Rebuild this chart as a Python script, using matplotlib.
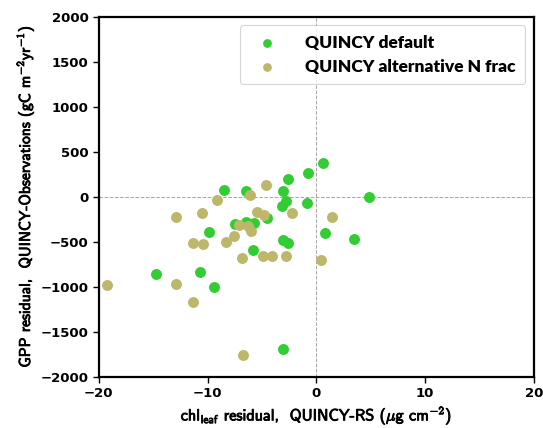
import matplotlib
matplotlib.use("Agg")
import matplotlib.pyplot as plt
import matplotlib.patheffects as pe
import numpy as np

# chl_leaf residual (x) vs GPP residual (y)
default_x = [0.61, -0.75, -2.64, -8.5, -6.46, -3.02, 4.88, -2.82, -0.87, -3.18,
             -4.53, -7.51, -6.44, -5.77, -9.88, 0.82, 3.43, -3.1, -2.64, -5.8,
             -14.7, -10.65, -9.42, -3.03]
default_y = [378, 263, 193, 69, 67, 67, -7, -51, -70, -109,
             -242, -306, -277, -289, -396, -400, -473, -481, -514, -590,
             -859, -833, -1000, -1692]

altn_x = [-4.66, -6.1, -9.12, -12.9, -10.55, -5.45, -4.79, -2.2, 1.47, -7.15,
          -6.28, -6.0, -7.57, -11.33, -10.41, -8.31, -6.8, -4.93, -4.04, -2.78,
          0.39, -19.26, -12.9, -11.3, -6.73]
altn_y = [128, 19, -37, -222, -184, -166, -203, -187, -222, -318,
          -328, -381, -437, -517, -522, -503, -684, -659, -659, -659,
          -703, -984, -967, -1170, -1762]

xticks = [-20, -10, 0, 10, 20]
yticks = [-2000, -1500, -1000, -500, 0, 500, 1000, 1500, 2000]

plt.rcParams['mathtext.fontset'] = 'cm'
plt.rcParams['axes.unicode_minus'] = True

fig = plt.figure(figsize=(5.43, 4.28), dpi=100)
ax = fig.add_axes([0.182, 0.12, 0.801, 0.841])

ax.axhline(0, color='grey', linestyle='--', linewidth=0.7, alpha=0.7, zorder=1)
ax.axvline(0, color='grey', linestyle='--', linewidth=0.7, alpha=0.7, zorder=1)

ax.scatter(default_x, default_y, s=62, color='limegreen', linewidths=0,
           label='QUINCY default', zorder=3)
ax.scatter(altn_x, altn_y, s=62, color='darkkhaki', linewidths=0,
           label='QUINCY alternative N frac', zorder=3)

ax.set_xlim(-20, 20)
ax.set_ylim(-2000, 2000)
ax.set_xticks(xticks)
ax.set_yticks(yticks)

for sp in ax.spines.values():
    sp.set_linewidth(1.6)
ax.tick_params(width=1.0, length=4)
for lab in ax.get_xticklabels() + ax.get_yticklabels():
    lab.set_fontfamily('DejaVu Sans')
    lab.set_fontweight('bold')
    lab.set_fontsize(9.5)

bold = [pe.withStroke(linewidth=0.6, foreground='black')]
xl = ax.set_xlabel(r'chl$_\mathsf{leaf}$ residual,  QUINCY-RS ($\mu$g cm$^{-2}$)',
                   fontfamily='cmss10', fontsize=11.6, labelpad=3)
yl = ax.set_ylabel(r'GPP residual,  QUINCY-Observations (gC m$^{-2}$yr$^{-1}$)',
                   fontfamily='cmss10', fontsize=11.2, labelpad=3)
xl.set_path_effects(bold)
yl.set_path_effects(bold)

leg = ax.legend(loc='upper right', markerscale=0.8, handletextpad=1.2,
                borderpad=0.55, labelspacing=0.45, handlelength=2.0,
                prop={'family': 'Lato', 'weight': 'heavy', 'size': 12.5})
leg.get_frame().set_linewidth(0.8)

fig.savefig('out.png', dpi=100)
